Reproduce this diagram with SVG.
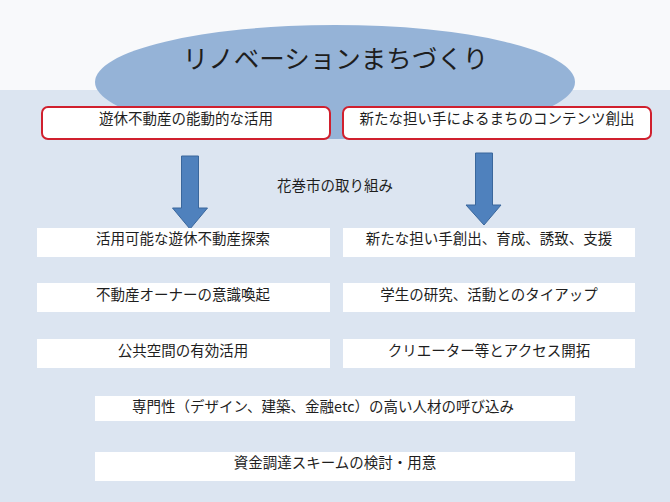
<svg xmlns="http://www.w3.org/2000/svg" width="670" height="502" viewBox="0 0 670 502">
<style>
text{font-family:"Noto Sans CJK JP","Noto Sans",sans-serif;fill:#1e1e1e;text-anchor:middle}
.t{font-size:14.5px}
.red{fill:#fff;stroke:#d0202e;stroke-width:2}
.wb{fill:#fff}
.arr{fill:#4f81bd;stroke:#3a679c;stroke-width:1}
</style>
<rect x="0" y="0" width="670" height="90" fill="#f8f9fb"/>
<rect x="0" y="90" width="670" height="412" fill="#dce5f1"/>
<g id="title">
<ellipse cx="335" cy="82" rx="240" ry="57" fill="#95b3d7"/>
<text x="335.5" y="68" font-size="25.5px">リノベーションまちづくり</text>
</g>
<g id="goal-left">
<rect class="red" x="42" y="107" width="288" height="32" rx="6"/>
<text class="t" x="186" y="124">遊休不動産の能動的な活用</text>
</g>
<g id="goal-right">
<rect class="red" x="343" y="107" width="308" height="32" rx="6"/>
<text class="t" x="497" y="124">新たな担い手によるまちのコンテンツ創出</text>
</g>
<g id="connectors">
<path class="arr" d="M181.5,156 H198.5 V208 H207.5 L190,229 L172.5,208 H181.5 Z"/>
<path class="arr" d="M475.5,153 H492.5 V205 H501 L484,225 L466,205 H475.5 Z"/>
</g>
<g id="label">
<text class="t" x="335" y="191">花巻市の取り組み</text>
</g>
<g id="l1">
<rect class="wb" x="37" y="228" width="293" height="29"/>
<text class="t" x="183" y="244">活用可能な遊休不動産探索</text>
</g>
<g id="r1">
<rect class="wb" x="343" y="228" width="292" height="29"/>
<text class="t" x="489" y="244">新たな担い手創出、育成、誘致、支援</text>
</g>
<g id="l2">
<rect class="wb" x="37" y="283" width="293" height="29"/>
<text class="t" x="183" y="300">不動産オーナーの意識喚起</text>
</g>
<g id="r2">
<rect class="wb" x="343" y="283" width="292" height="29"/>
<text class="t" x="489" y="300">学生の研究、活動とのタイアップ</text>
</g>
<g id="l3">
<rect class="wb" x="37" y="339" width="293" height="29"/>
<text class="t" x="183" y="356">公共空間の有効活用</text>
</g>
<g id="r3">
<rect class="wb" x="343" y="339" width="292" height="29"/>
<text class="t" x="489" y="356">クリエーター等とアクセス開拓</text>
</g>
<g id="c1">
<rect class="wb" x="95" y="396" width="480" height="25"/>
<text class="t" x="323" y="412">専門性（デザイン、建築、金融etc）の高い人材の呼び込み</text>
</g>
<g id="c2">
<rect class="wb" x="95" y="452" width="480" height="29"/>
<text class="t" x="335" y="468">資金調達スキームの検討・用意</text>
</g>
</svg>
